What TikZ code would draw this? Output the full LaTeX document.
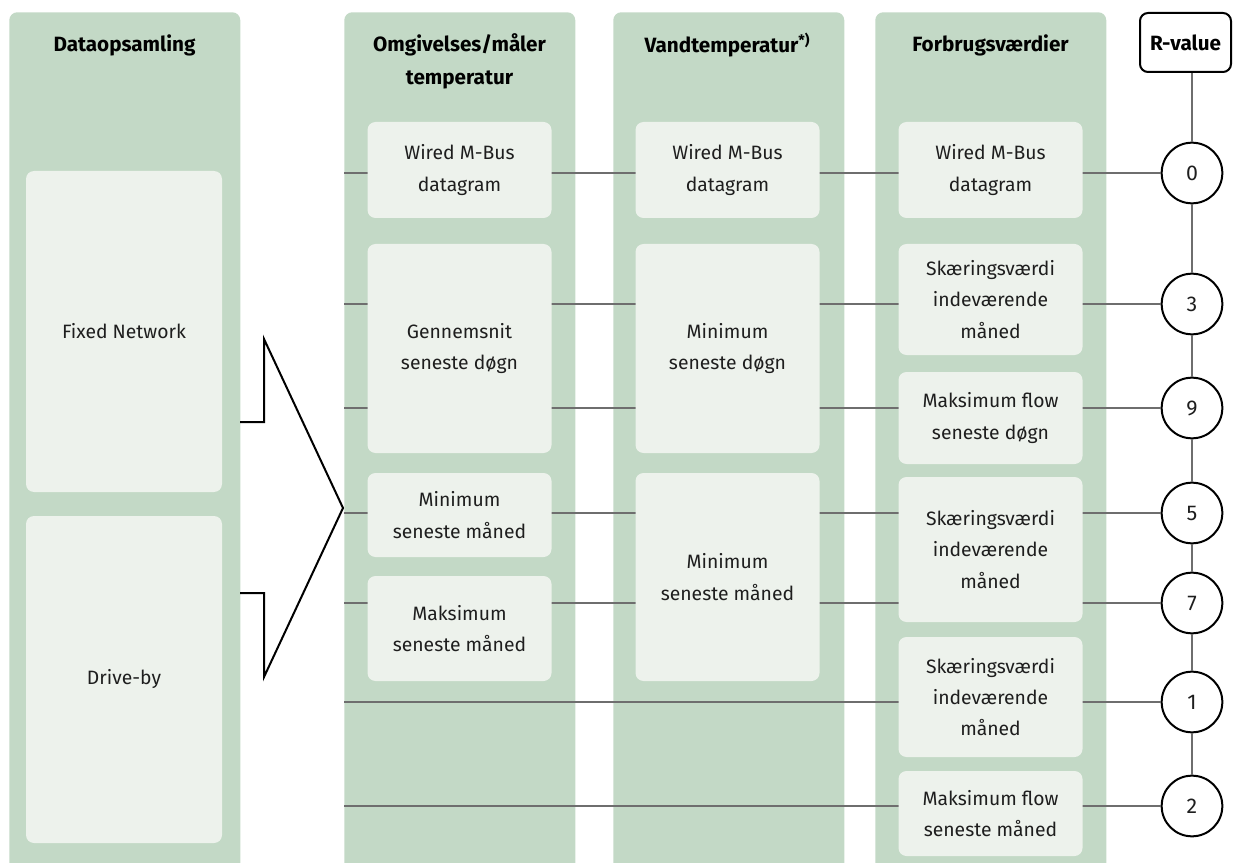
\documentclass[tikz,border=0pt]{standalone}
\usepackage{fontspec}
\setmainfont{Fira Sans}
\definecolor{colg}{RGB}{195,217,198}
\definecolor{boxg}{RGB}{237,242,236}
\definecolor{lineg}{RGB}{110,110,110}
\definecolor{txt}{RGB}{30,30,30}
\begin{document}
\begin{tikzpicture}[x=0.75pt,y=-0.75pt,
  colbox/.style={fill=colg, rounded corners=6pt, minimum width=173.25pt, minimum height=651pt, anchor=north west, inner sep=0pt},
  ibox/.style={fill=boxg, rounded corners=6pt, inner sep=0pt, align=center, minimum width=138pt, text=txt, font=\fontsize{14.5}{23.5}\selectfont},
  head/.style={font=\fontsize{15.5}{24.75}\selectfont\bfseries, align=center},
  conn/.style={draw=lineg, line width=1.7pt},
  rcirc/.style={circle, draw=black, line width=1.5pt, fill=white, minimum size=45.5pt, inner sep=0pt, text=txt, font=\fontsize{16}{19}\selectfont},
]
\useasboundingbox (0,0) rectangle (1233,863);
\begin{scope}
\clip (0,0) rectangle (1233,863);
% columns
\node[colbox] (col1) at (9,12) {};
\node[colbox] (col2) at (344,12) {};
\node[colbox] (col3) at (613,12) {};
\node[colbox] (col4) at (875,12) {};
\end{scope}

% headers
\node[head] (h1) at (124.5,45) {Dataopsamling};
\node[head] (h2) at (459.5,61.5) {Omgivelses/måler\\temperatur};
\node[head] (h3) at (727.5,45) {Vandtemperatur\textsuperscript{*)}};
\node[head] (h4) at (990.5,45) {Forbrugsværdier};

% left column boxes
\node[ibox, minimum width=147pt, minimum height=240.75pt] (fixed) at (124,331.5) {Fixed Network};
\node[ibox, minimum width=147pt, minimum height=245.25pt] (drive) at (124,679.5) {Drive-by};

% arrow
\draw[line width=1.5pt, line join=miter] (240,422) -- (264,422) -- (264,339) -- (343,508) -- (264,677) -- (264,593) -- (240,593);

% R-value
\node[draw=black, line width=1.5pt, rounded corners=6pt, fill=white, minimum width=68.25pt, minimum height=44.25pt, inner sep=0pt, font=\fontsize{15.5}{18}\selectfont\bfseries] (rv) at (1185.5,42.5) {R-value};

% circles
\node[rcirc] (c0) at (1192,173) {0};
\node[rcirc] (c3) at (1192,304) {3};
\node[rcirc] (c9) at (1192,408) {9};
\node[rcirc] (c5) at (1192,513) {5};
\node[rcirc] (c7) at (1192,603) {7};
\node[rcirc] (c1) at (1192,702) {1};
\node[rcirc] (c2) at (1192,806) {2};

% vertical spine
\draw[conn] (rv.south -| c0) -- (c0.north);
\draw[conn] (c0.south) -- (c3.north);
\draw[conn] (c3.south) -- (c9.north);
\draw[conn] (c9.south) -- (c5.north);
\draw[conn] (c5.south) -- (c7.north);
\draw[conn] (c7.south) -- (c1.north);
\draw[conn] (c1.south) -- (c2.north);

% row lines
\coordinate (s0) at (344,173);
\coordinate (s3) at (344,304);
\coordinate (s9) at (344,408);
\coordinate (s5) at (344,513);
\coordinate (s7) at (344,603);
\coordinate (s1) at (344,702);
\coordinate (s2) at (344,806);
\draw[conn] (s0) -- (c0.west);
\draw[conn] (s3) -- (c3.west);
\draw[conn] (s9) -- (c9.west);
\draw[conn] (s5) -- (c5.west);
\draw[conn] (s7) -- (c7.west);
\draw[conn] (s1) -- (c1.west);
\draw[conn] (s2) -- (c2.west);

% column 2 boxes
\node[ibox, minimum height=72pt] (a1) at (459.5,170) {Wired M-Bus\\datagram};
\node[ibox, minimum height=156.75pt] (a2) at (459.5,348.5) {Gennemsnit\\seneste døgn};
\node[ibox, minimum height=63pt] (a3) at (459.5,515) {Minimum\\seneste måned};
\node[ibox, minimum height=78.75pt] (a4) at (459.5,628.5) {Maksimum\\seneste måned};

% column 3 boxes
\node[ibox, minimum height=72pt] (b1) at (727.5,170) {Wired M-Bus\\datagram};
\node[ibox, minimum height=156.75pt] (b2) at (727.5,348.5) {Minimum\\seneste døgn};
\node[ibox, minimum height=156pt] (b3) at (727.5,577) {Minimum\\seneste måned};

% column 4 boxes
\node[ibox, minimum height=72pt] (d1) at (990.5,170) {Wired M-Bus\\datagram};
\node[ibox, minimum height=83.25pt] (d2) at (990.5,299.5) {Skæringsværdi\\indeværende\\måned};
\node[ibox, minimum height=69pt] (d3) at (990.5,418) {Maksimum flow\\seneste døgn};
\node[ibox, minimum height=108.75pt] (d4) at (990.5,549.5) {Skæringsværdi\\indeværende\\måned};
\node[ibox, minimum height=90pt] (d5) at (990.5,697) {Skæringsværdi\\indeværende\\måned};
\node[ibox, minimum height=63.75pt] (d6) at (990.5,813.5) {Maksimum flow\\seneste måned};
\end{tikzpicture}
\end{document}
